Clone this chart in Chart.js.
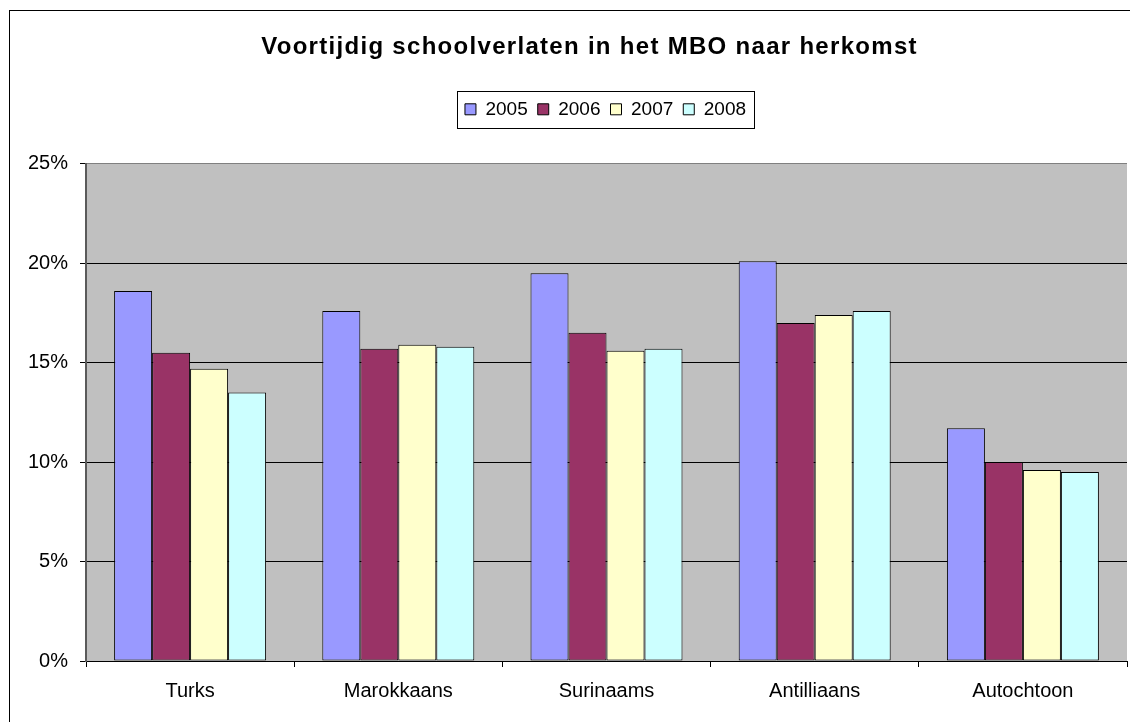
<!DOCTYPE html>
<html>
<head>
<meta charset="utf-8">
<script src="https://cdn.jsdelivr.net/npm/chart.js@4"></script>
<style>
  html, body { margin: 0; padding: 0; background: #fff; }
  #wrap { width: 1130px; height: 722px; }
</style>
</head>
<body>
<div id="wrap"><canvas id="chart" width="1130" height="722"></canvas></div>
<script>
const categories = ['Turks', 'Marokkaans', 'Surinaams', 'Antilliaans', 'Autochtoon'];
const years = ['2005', '2006', '2007', '2008'];
const values2005 = [18.6, 17.6, 19.5, 20.1, 11.7];
const values2006 = [15.5, 15.7, 16.5, 17.0, 10.0];
const values2007 = [14.7, 15.9, 15.6, 17.4, 9.6];
const values2008 = [13.5, 15.8, 15.7, 17.6, 9.5];
const yTicks = [0, 5, 10, 15, 20, 25];
const colors = ['#9999FF', '#993366', '#FFFFCC', '#CCFFFF'];

const font = "'Liberation Sans', Arial, sans-serif";

// background, plot area and outer frame
const framePlugin = {
    id: 'frame',
    afterLayout(chart) {
        // the picture is cropped on the right, so title and legend sit right of centre
        chart.titleBlock.left += 26;
        chart.titleBlock.right += 26;
        chart.legend.left += 42;
        chart.legend.right += 42;
    },
    beforeDraw(chart) {
        const ctx = chart.ctx;
        const a = chart.chartArea;
        ctx.save();
        ctx.fillStyle = '#fff';
        ctx.fillRect(0, 0, chart.width, chart.height);
        ctx.fillStyle = '#C0C0C0';
        ctx.fillRect(a.left, a.top, a.right - a.left, a.bottom - a.top);
        ctx.strokeStyle = '#000';
        ctx.lineWidth = 1;
        ctx.strokeRect(9.5, 10.5, chart.width + 20, chart.height + 20);
        ctx.restore();
    },
    afterDraw(chart) {
        const boxes = chart.legend.legendHitBoxes;
        if (!boxes || !boxes.length) return;
        let l = Infinity, r = -Infinity;
        boxes.forEach(b => { l = Math.min(l, b.left); r = Math.max(r, b.left + b.width); });
        const ctx = chart.ctx;
        ctx.save();
        ctx.strokeStyle = '#000';
        ctx.lineWidth = 1;
        ctx.strokeRect(Math.round(l - 8) + 0.5, Math.round(chart.legend.top) + 1.5, Math.round(r - l + 16), Math.round(chart.legend.height) - 2);
        ctx.restore();
    }
};

const ctx = document.getElementById('chart').getContext('2d');
const chart = new Chart(ctx, {
    type: 'bar',
    data: {
        labels: categories,
        datasets: [values2005, values2006, values2007, values2008].map((vals, i) => ({
            label: years[i],
            data: vals,
            backgroundColor: colors[i],
            borderColor: '#000',
            borderWidth: 1,
            borderSkipped: false
        }))
    },
    options: {
        responsive: false,
        animation: false,
        layout: { padding: { left: 0, right: 3, top: 0, bottom: 0 } },
        datasets: {
            bar: { categoryPercentage: 0.73, barPercentage: 1.0 }
        },
        plugins: {
            title: {
                display: true,
                text: 'Voortijdig schoolverlaten in het MBO naar herkomst',
                color: '#000',
                font: { family: font, size: 24, weight: 'bold', lineHeight: 1.2 },
                padding: { top: 33, bottom: 28 }
            },
            subtitle: {
                display: true,
                text: '',
                weight: 500,
                font: { family: font, size: 10, lineHeight: 1 },
                padding: { top: 25, bottom: 0 }
            },
            legend: {
                display: true,
                position: 'top',
                labels: {
                    color: '#000',
                    font: { family: font, size: 19 },
                    boxWidth: 11,
                    boxHeight: 11,
                    padding: 10
                }
            },
            tooltip: { enabled: false }
        },
        scales: {
            x: {
                afterFit(scale) { scale.height = 61; },
                grid: {
                    offset: true,
                    drawOnChartArea: false,
                    color: '#000',
                    tickLength: 6
                },
                border: { color: '#000' },
                ticks: {
                    color: '#000',
                    font: { family: font, size: 20 },
                    padding: 12,
                    maxRotation: 0
                }
            },
            y: {
                min: 0,
                max: 25,
                afterFit(scale) { scale.width = 86; },
                afterBuildTicks(scale) { scale.ticks = yTicks.map(v => ({ value: v })); },
                grid: {
                    color: ctx => ctx.tick && ctx.tick.value === 25 ? '#808080' : '#000',
                    tickColor: '#000',
                    tickLength: 6
                },
                border: { color: '#5a5a5a', width: 2 },
                ticks: {
                    color: '#000',
                    font: { family: font, size: 20 },
                    padding: 12,
                    callback: v => v + '%'
                }
            }
        }
    },
    plugins: [framePlugin]
});

// the original title is set a little wider than the font
const drawTitle = chart.titleBlock.draw.bind(chart.titleBlock);
chart.titleBlock.draw = function() {
    chart.ctx.save();
    chart.ctx.letterSpacing = '1.3px';
    drawTitle();
    chart.ctx.restore();
};
chart.draw();
</script>
</body>
</html>
